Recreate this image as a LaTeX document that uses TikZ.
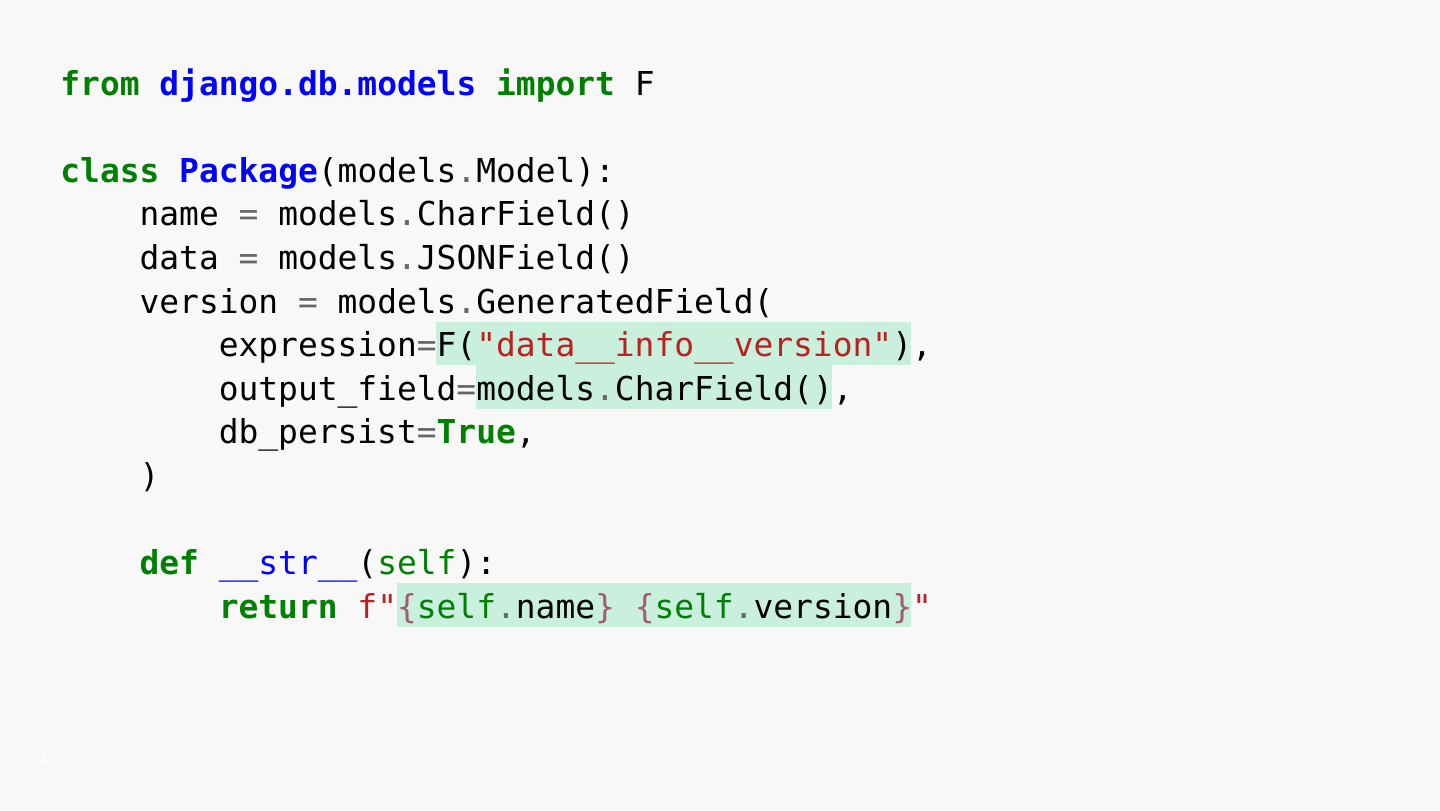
\documentclass[tikz,border=0pt]{standalone}
\usepackage{fontspec}
\newfontfamily\codefont{DejaVu Sans Mono}
\newfontfamily\numfont{Carlito}
\definecolor{slidebg}{HTML}{F8F8F8}
\definecolor{kwgreen}{HTML}{008000}
\definecolor{nsblue}{HTML}{0000FF}
\definecolor{opgrey}{HTML}{666666}
\definecolor{strred}{HTML}{BA2121}
\definecolor{ipurple}{HTML}{A45A77}
\definecolor{hlgreen}{HTML}{C8F0DC}
\newcommand{\ckw}[1]{\textcolor{kwgreen}{\bfseries #1}}
\newcommand{\cns}[1]{\textcolor{nsblue}{\bfseries #1}}
\newcommand{\cfn}[1]{\textcolor{nsblue}{#1}}
\newcommand{\cop}[1]{\textcolor{opgrey}{#1}}
\newcommand{\cstr}[1]{\textcolor{strred}{#1}}
\newcommand{\cip}[1]{\textcolor{ipurple}{#1}}
\newcommand{\cself}[1]{\textcolor{kwgreen}{#1}}

\begin{document}
\begin{tikzpicture}[x=9.9pt,y=-21.8pt,
	codeline/.style={anchor=base west,inner sep=0pt,
		font=\codefont\fontsize{16.45pt}{20pt}\selectfont},
	hl/.style={fill=hlgreen}]
	\useasboundingbox (-30pt,47.5pt) rectangle (690pt,-357.5pt);
	\fill[slidebg] (-30pt,47.5pt) rectangle (690pt,-357.5pt);
	% highlighted spans
	\fill[hl] (19,5.2) rectangle (43,6.2);
	\fill[hl] (21,6.2) rectangle (39,7.2);
	\fill[hl] (17,11.2) rectangle (43,12.2);
	% code lines
	\node[codeline] (l1) at (0,0) {\ckw{from} \cns{django.db.models} \ckw{import} F};
	\node[codeline] (l3) at (0,2) {\ckw{class} \cns{Package}(models\cop{.}Model):};
	\node[codeline] (l4) at (4,3) {name \cop{=} models\cop{.}CharField()};
	\node[codeline] (l5) at (4,4) {data \cop{=} models\cop{.}JSONField()};
	\node[codeline] (l6) at (4,5) {version \cop{=} models\cop{.}GeneratedField(};
	\node[codeline] (l7) at (8,6) {expression\cop{=}F(\cstr{"data\_\_info\_\_version"}),};
	\node[codeline] (l8) at (8,7) {output\_field\cop{=}models\cop{.}CharField(),};
	\node[codeline] (l9) at (8,8) {db\_persist\cop{=}\ckw{True},};
	\node[codeline] (l10) at (4,9) {)};
	\node[codeline] (l12) at (4,11) {\ckw{def} \cfn{\_\_str\_\_}(\cself{self}):};
	\node[codeline] (l13) at (8,12) {\ckw{return} \cstr{f"}\cip{\{}\cself{self}\cop{.}name\cip{\}} \cip{\{}\cself{self}\cop{.}version\cip{\}}\cstr{"}};
	% slide number
	\node[text=white,font=\numfont\fontsize{10pt}{12pt}\selectfont] (pgno) at (-6pt,-332.5pt) {46};
\end{tikzpicture}
\end{document}
